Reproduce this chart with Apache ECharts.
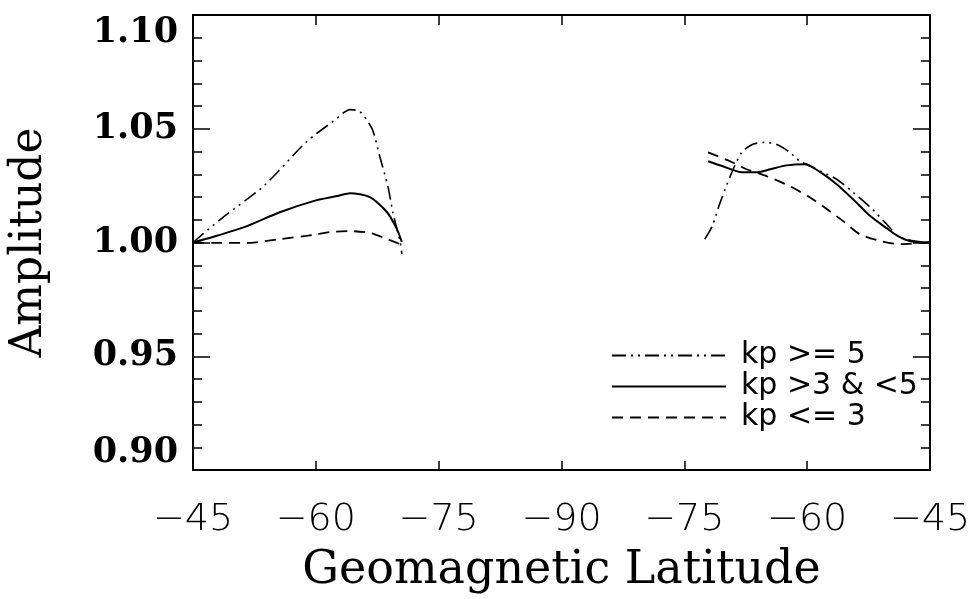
<!DOCTYPE html>
<html>
<head>
<meta charset="utf-8">
<script src="https://cdn.jsdelivr.net/npm/echarts@6/dist/echarts.min.js"></script>
<style>
html,body{margin:0;padding:0;background:#fff;}
#chart{width:974px;height:599px;}
</style>
</head>
<body>
<div id="chart"></div>
<script>
// Tick labels (x axis runs -45 -> -90 -> -45 across the pole)
const xTickLabels = ['\u221245', '\u221260', '\u221275', '\u221290', '\u221275', '\u221260', '\u221245'];
const yTickLabels = ['0.90', '0.95', '1.00', '1.05', '1.10'];

// Series names
const seriesNames = ['kp >= 5', 'kp >3 & <5', 'kp <= 3'];

// Position along the axis (0 = left -45, 45 = -90, 90 = right -45); null = gap between branches
const posKp5 = [0, 3.7, 8.6, 13.9, 17.1, 19.2, 20.4, 21.9, 22.8, 23.8, 24.4, 25.3, 25.5, null,
  62.5, 63.4, 64.3, 65.6, 67.0, 68.3, 69.8, 71.3, 72.9, 74.1, 75.0, 76.9, 78.6, 80.6, 82.7, 84.7, 86.1, 87.9, 90];
const ampKp5 = [1.000, 1.0112, 1.0247, 1.0444, 1.0532, 1.0584, 1.0575, 1.0497, 1.0379, 1.0247, 1.0133, 1.0002, 0.995, null,
  1.0015, 1.0072, 1.0168, 1.0291, 1.0396, 1.0431, 1.0440, 1.0431, 1.0396, 1.0357, 1.0344, 1.0309, 1.0278, 1.0221, 1.0155, 1.0081, 1.0028, 1.0007, 1.000];

const posKp35 = [0, 2.4, 6.6, 10.6, 14.7, 17.6, 19.2, 21.6, 23.7, 24.9, 25.5, null,
  62.9, 64.7, 67.0, 68.9, 70.5, 72.5, 74.7, 76.6, 78.6, 80.6, 82.7, 84.7, 86.1, 87.5, 90];
const ampKp35 = [1.000, 1.0024, 1.0072, 1.0133, 1.0182, 1.0204, 1.0217, 1.0199, 1.0133, 1.0059, 1.0002, null,
  1.0357, 1.0335, 1.0309, 1.0309, 1.0322, 1.0339, 1.0344, 1.0309, 1.0256, 1.0190, 1.0116, 1.0063, 1.0028, 1.0007, 1.000];

const posKp3 = [0, 2.4, 6.6, 10.6, 14.7, 16.7, 19.2, 21.6, 23.7, 25.3, null,
  62.9, 65.6, 67.6, 70.1, 72.9, 75.3, 77.4, 79.4, 81.4, 83.9, 86.3, 90];
const ampKp3 = [1.000, 0.9998, 0.9998, 1.0015, 1.0033, 1.0046, 1.0050, 1.0042, 1.0015, 0.9993, null,
  1.0396, 1.0357, 1.0322, 1.0291, 1.0247, 1.0199, 1.0147, 1.0094, 1.0037, 1.0007, 0.9993, 1.000];

function pairs(xs, ys) {
  return xs.map((x, i) => (x === null || ys[i] === null) ? ['-', '-'] : [x, ys[i]]);
}

const X_MIN = 0, X_MAX = 90, X_STEP = 15;
const Y_MIN = 0.90, Y_MAX = 1.10, Y_STEP = 0.05;

const chart = echarts.init(document.getElementById('chart'), null, {renderer: 'canvas'});

const frameLine = {show: true, onZero: false, lineStyle: {color: '#000', width: 2}};

const option = {
  backgroundColor: '#fff',
  animation: false,
  grid: {left: 193, right: 44, top: 15, bottom: 127, containLabel: false},
  legend: {
    orient: 'vertical',
    left: 606,
    top: 335,
    itemWidth: 114,
    itemHeight: 14,
    itemGap: 0,
    data: seriesNames,
    itemStyle: {opacity: 0, borderWidth: 0},
    textStyle: {fontFamily: 'DejaVu Sans', fontSize: 30, color: '#000', lineHeight: 31, padding: [0, 0, 0, 10]},
    selectedMode: false
  },
  xAxis: [{
    type: 'value', position: 'bottom', min: X_MIN, max: X_MAX, interval: X_STEP,
    name: 'Geomagnetic Latitude', nameLocation: 'middle', nameGap: 78,
    nameTextStyle: {fontFamily: 'DejaVu Serif', fontSize: 46, color: '#000'},
    axisLine: frameLine,
    axisTick: {show: true, inside: true, length: 9, lineStyle: {color: '#000', width: 1.5}},
    axisLabel: {
      show: true, margin: 31, color: '#000', fontFamily: 'DejaVu Sans', fontWeight: 200, fontSize: 38,
      formatter: v => xTickLabels[Math.round((v - X_MIN) / X_STEP)]
    },
    splitLine: {show: false}
  }, {
    type: 'value', position: 'top', min: X_MIN, max: X_MAX, interval: X_STEP,
    axisLine: frameLine,
    axisTick: {show: true, inside: true, length: 10, lineStyle: {color: '#000', width: 1.5}},
    axisLabel: {show: false},
    splitLine: {show: false}
  }],
  yAxis: [{
    type: 'value', position: 'left', min: Y_MIN, max: Y_MAX, interval: Y_STEP,
    name: 'Amplitude', nameLocation: 'middle', nameGap: 141,
    nameTextStyle: {fontFamily: 'DejaVu Serif', fontSize: 44, color: '#000'},
    axisLine: frameLine,
    axisTick: {show: true, inside: true, length: 17, lineStyle: {color: '#000', width: 1.5}},
    minorTick: {show: true, splitNumber: 5, length: 9, lineStyle: {color: '#000', width: 1.5}},
    axisLabel: {
      show: true, margin: 15, color: '#000', fontFamily: 'DejaVu Serif', fontWeight: 'bold', fontSize: 35,
      verticalAlignMaxLabel: 'top', verticalAlignMinLabel: 'bottom',
      formatter: v => yTickLabels[Math.round((v - Y_MIN) / Y_STEP)]
    },
    splitLine: {show: false},
    minorSplitLine: {show: false}
  }, {
    type: 'value', position: 'right', min: Y_MIN, max: Y_MAX, interval: Y_STEP,
    axisLine: frameLine,
    axisTick: {show: true, inside: true, length: 17, lineStyle: {color: '#000', width: 1.5}},
    minorTick: {show: true, splitNumber: 5, length: 9, lineStyle: {color: '#000', width: 1.5}},
    axisLabel: {show: false},
    splitLine: {show: false}
  }],
  series: [{
    name: seriesNames[0], type: 'line', xAxisIndex: 0, yAxisIndex: 0,
    data: pairs(posKp5, ampKp5), smooth: 0.25, symbol: 'none', connectNulls: false,
    lineStyle: {color: '#000', width: 1.6, type: [14, 5, 2, 5, 2, 5]},
    itemStyle: {color: '#000'}
  }, {
    name: seriesNames[1], type: 'line', xAxisIndex: 0, yAxisIndex: 0,
    data: pairs(posKp35, ampKp35), smooth: 0.25, symbol: 'none', connectNulls: false,
    lineStyle: {color: '#000', width: 2, type: 'solid'},
    itemStyle: {color: '#000'}
  }, {
    name: seriesNames[2], type: 'line', xAxisIndex: 0, yAxisIndex: 0,
    data: pairs(posKp3, ampKp3), smooth: 0.25, symbol: 'none', connectNulls: false,
    lineStyle: {color: '#000', width: 1.8, type: [11, 7]},
    itemStyle: {color: '#000'}
  }]
};
chart.setOption(option);
</script>
</body>
</html>
